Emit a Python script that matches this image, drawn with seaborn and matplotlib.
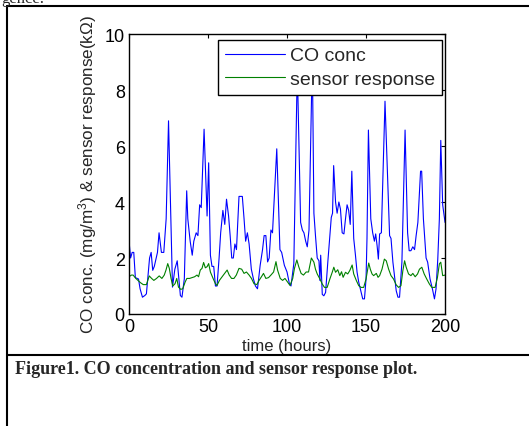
import matplotlib
matplotlib.use("Agg")
import matplotlib.pyplot as plt
from matplotlib.lines import Line2D
import seaborn as sns
import pandas as pd

# values
co_hours = [0, 1, 2, 3, 4, 6, 7, 8.5, 10, 11, 13, 14, 15, 16, 18, 19, 20.5, 22, 23.5, 25,
            27.5, 29, 30.5, 32.5, 33.5, 35, 36.5, 37.2, 38.7, 40, 41, 42.5, 43.6, 44.7, 45.7,
            47.5, 49.4, 50.4, 51.5, 52.5, 53.6, 54.7, 55.7, 57, 58, 59.4, 60.6, 61.7, 63, 64,
            65, 66, 67, 68, 69.6, 71.7, 72.8, 73.8, 74.9, 76, 77.4, 78.7, 80, 81.3, 83, 84.5,
            85.5, 86.6, 87.7, 88.7, 89.8, 90.8, 93.5, 95.5, 96.6, 98.3, 100, 101.5, 102.5,
            104.3, 106.5, 108.6, 109.7, 110.7, 111.8, 112.8, 113.9, 116, 117, 118, 119.1,
            120.2, 120.8, 121.3, 122.3, 123.3, 124.4, 125.8, 127, 128, 128.8, 129.5, 130.7,
            131.7, 132.8, 133.8, 134.9, 136, 137, 138, 139, 140, 141, 142.2, 143.3, 144.3,
            145.4, 146.4, 147.9, 149, 150, 150.6, 151.5, 153, 154.2, 155.3, 156.1, 157, 157.8,
            158.6, 159.7, 162, 164.3, 164.9, 165.8, 167, 168, 169.1, 170.2, 171.2, 172.7,
            174.7, 176.3, 177.3, 178.4, 179.6, 180.7, 181.7, 182.8, 184.5, 185.2, 186.3, 188,
            189, 190.5, 192, 193.3, 194.3, 195.4, 196.4, 197.3, 198.5, 200]
co_conc = [2.6, 2.0, 2.2, 2.2, 1.3, 1.25, 0.9, 0.6, 0.66, 0.72, 2.0, 2.2, 1.56, 1.7, 2.2, 2.9,
           2.2, 2.2, 3.4, 6.9, 0.96, 1.6, 1.9, 0.66, 0.6, 1.26, 4.4, 3.4, 2.6, 2.1, 2.6, 2.9,
           2.8, 3.9, 3.8, 6.6, 3.5, 5.4, 2.1, 1.7, 1.7, 1.0, 1.0, 2.0, 2.9, 3.7, 3.2, 4.1, 3.5,
           2.8, 2.0, 2.0, 2.5, 2.3, 4.2, 4.2, 3.4, 2.6, 2.9, 2.5, 1.6, 1.26, 1.0, 0.9, 1.74,
           2.3, 2.8, 2.8, 1.86, 2.0, 3.0, 2.9, 5.9, 2.3, 2.2, 1.74, 1.5, 1.08, 1.0, 1.8, 8.8,
           3.27, 3.0, 2.9, 2.6, 2.4, 3.0, 9.2, 3.6, 2.8, 2.0, 1.9, 1.2, 2.1, 0.7, 0.65, 0.77,
           1.85, 2.7, 3.45, 3.6, 5.3, 4.0, 3.6, 4.0, 3.75, 2.9, 2.86, 3.4, 3.9, 3.7, 3.2, 5.1,
           2.7, 2.1, 1.5, 1.13, 0.9, 0.54, 0.54, 1.25, 2.7, 6.57, 3.4, 2.9, 2.6, 2.86, 2.44,
           1.96, 2.86, 2.9, 7.6, 3.75, 2.8, 2.7, 1.85, 1.37, 0.83, 0.6, 0.6, 1.85, 6.57, 2.9,
           2.26, 2.26, 2.4, 2.3, 2.8, 3.27, 5.1, 5.1, 3.4, 2.0, 1.85, 1.25, 0.9, 0.54, 0.9,
           1.96, 3.4, 6.2, 3.9, 3.27]

sensor_hours = [0, 1.5, 2.6, 4.3, 5.7, 7.2, 9, 11, 12.8, 14.3, 15.7, 17.4, 19.1, 20.8, 22.3,
                23.4, 24.5, 25.5, 26.6, 27.7, 29.1, 30.2, 31.3, 32.7, 34, 35.5, 36.6, 38.3,
                39.8, 41.5, 43, 44, 45.1, 46.2, 47.2, 48.3, 49.4, 50.4, 51.5, 53.2, 54.7, 55.7,
                57.2, 58.9, 60.4, 62.1, 63.4, 64.9, 66.4, 67.9, 69.6, 71.3, 72.8, 74.3, 76,
                77.5, 79.1, 80.9, 82.3, 83.8, 85.1, 86.6, 88.3, 89.8, 91.5, 93, 94, 95.7, 97.2,
                98.7, 100.4, 101.9, 103.6, 104.7, 106.2, 107.4, 108.9, 110.4, 112.1, 113.6,
                115.4, 117, 118, 119.1, 120.8, 122.3, 123.7, 125.4, 127.1, 128.6, 129.6, 130.7,
                132.1, 133.4, 134.5, 135.5, 137, 138.4, 139.7, 141.2, 142.2, 143.9, 145.4,
                146.8, 148.5, 150, 151.7, 152.7, 153.8, 154.8, 156.5, 157.6, 158.6, 160.1,
                161.6, 162.8, 164.3, 165.8, 167.4, 169.1, 170.6, 172.1, 173.3, 174.4, 175.4,
                176.9, 178.4, 179.6, 181.1, 182.6, 183.8, 185.3, 186.8, 188.4, 190.1, 191.6,
                193.7, 195.2, 196.4, 197.3, 198.5, 200]
sensor_resp = [1.33, 1.39, 1.39, 1.27, 1.2, 1.12, 1.05, 1.05, 1.36, 1.27, 1.2, 1.27, 1.36,
               1.27, 1.39, 1.57, 1.8, 1.63, 1.27, 1.0, 1.08, 1.27, 0.96, 0.88, 0.9, 1.14, 1.27,
               1.27, 1.3, 1.33, 1.39, 1.33, 1.57, 1.63, 1.84, 1.65, 1.69, 1.8, 1.5, 1.27, 1.08,
               1.02, 1.2, 1.33, 1.45, 1.57, 1.39, 1.27, 1.27, 1.39, 1.63, 1.6, 1.45, 1.5, 1.39,
               1.27, 1.08, 1.05, 1.2, 1.33, 1.45, 1.27, 1.3, 1.39, 1.5, 1.87, 1.57, 1.27, 1.2,
               1.27, 1.14, 1.02, 1.27, 1.63, 1.93, 1.69, 1.45, 1.39, 1.5, 1.5, 2.0, 1.85, 1.6,
               1.43, 1.25, 1.07, 0.95, 0.95, 1.25, 1.49, 1.67, 1.49, 1.58, 1.37, 1.51, 1.31,
               1.49, 1.43, 1.55, 1.75, 1.43, 1.19, 1.01, 0.95, 0.95, 1.25, 1.82, 1.6, 1.43,
               1.37, 1.45, 1.31, 1.37, 1.6, 1.96, 1.9, 1.6, 1.37, 1.25, 1.04, 0.95, 1.01, 1.55,
               1.9, 1.67, 1.43, 1.37, 1.45, 1.33, 1.43, 1.6, 1.67, 1.43, 1.25, 1.07, 0.95, 0.95,
               1.31, 1.79, 1.85, 1.37, 1.39]

series_names = ["CO conc", "sensor response"]
series_colors = ["#0000ff", "#008000"]

df = pd.concat([
    pd.DataFrame({"hours": co_hours, "value": co_conc, "series": series_names[0]}),
    pd.DataFrame({"hours": sensor_hours, "value": sensor_resp, "series": series_names[1]}),
])

sns.set_style("white")
plt.rcParams["font.family"] = ["Liberation Sans", "DejaVu Sans"]
plt.rcParams["mathtext.default"] = "regular"

fig = plt.figure(figsize=(5.29, 4.27), dpi=100)
ax = fig.add_axes([0.2439, 0.2623, 0.5974, 0.6557])

sns.lineplot(data=df, x="hours", y="value", hue="series",
             palette=dict(zip(series_names, series_colors)),
             estimator=None, linewidth=0.8, legend=False, ax=ax)

ax.set_xlim(0, 200)
ax.set_ylim(0, 10)
ax.set_xticks([0, 50, 100, 150, 200])
ax.set_yticks([0, 2, 4, 6, 8, 10])
ax.tick_params(direction="in", length=3, width=0.8, top=True, right=True,
               labelsize=13, pad=3, colors="black")
for s in ax.spines.values():
    s.set_color("black")
    s.set_linewidth(1.0)

ax.set_xlabel("time (hours)", fontsize=12, labelpad=2)
ax.set_ylabel("CO conc. (mg/m$^3$) & sensor response(k\u03a9)", fontsize=12.3, labelpad=4)

handles = [Line2D([], [], color=c, lw=0.8) for c in series_colors]
leg = ax.legend(handles, series_names, loc="upper right", bbox_to_anchor=(0.991, 0.979),
                fontsize=14, frameon=True, fancybox=False, framealpha=1,
                edgecolor="black", handlelength=3.1, borderpad=0.35, labelspacing=0.3,
                handletextpad=0.25, borderaxespad=0)
leg.get_frame().set_linewidth(1.0)

# page frame around the figure and caption
W, H = 529, 427
fig.add_artist(Line2D([7 / W, 7 / W], [0, 1 - 7 / H], color="black", lw=1.5))
fig.add_artist(Line2D([7 / W, 1], [1 - 7 / H, 1 - 7 / H], color="black", lw=1.5))
fig.add_artist(Line2D([7 / W, 1], [1 - 356 / H, 1 - 356 / H], color="black", lw=1.5))

fig.text(15 / W, 1 - 370 / H, "Figure1. CO concentration and sensor response plot.",
         family="Liberation Serif", weight="bold", fontsize=13, va="center", ha="left")
fig.text(1 / W, 1 - 3 / H, "gence.", family="Liberation Serif", fontsize=12,
         va="baseline", ha="left")

fig.savefig("out.png", dpi=100)
